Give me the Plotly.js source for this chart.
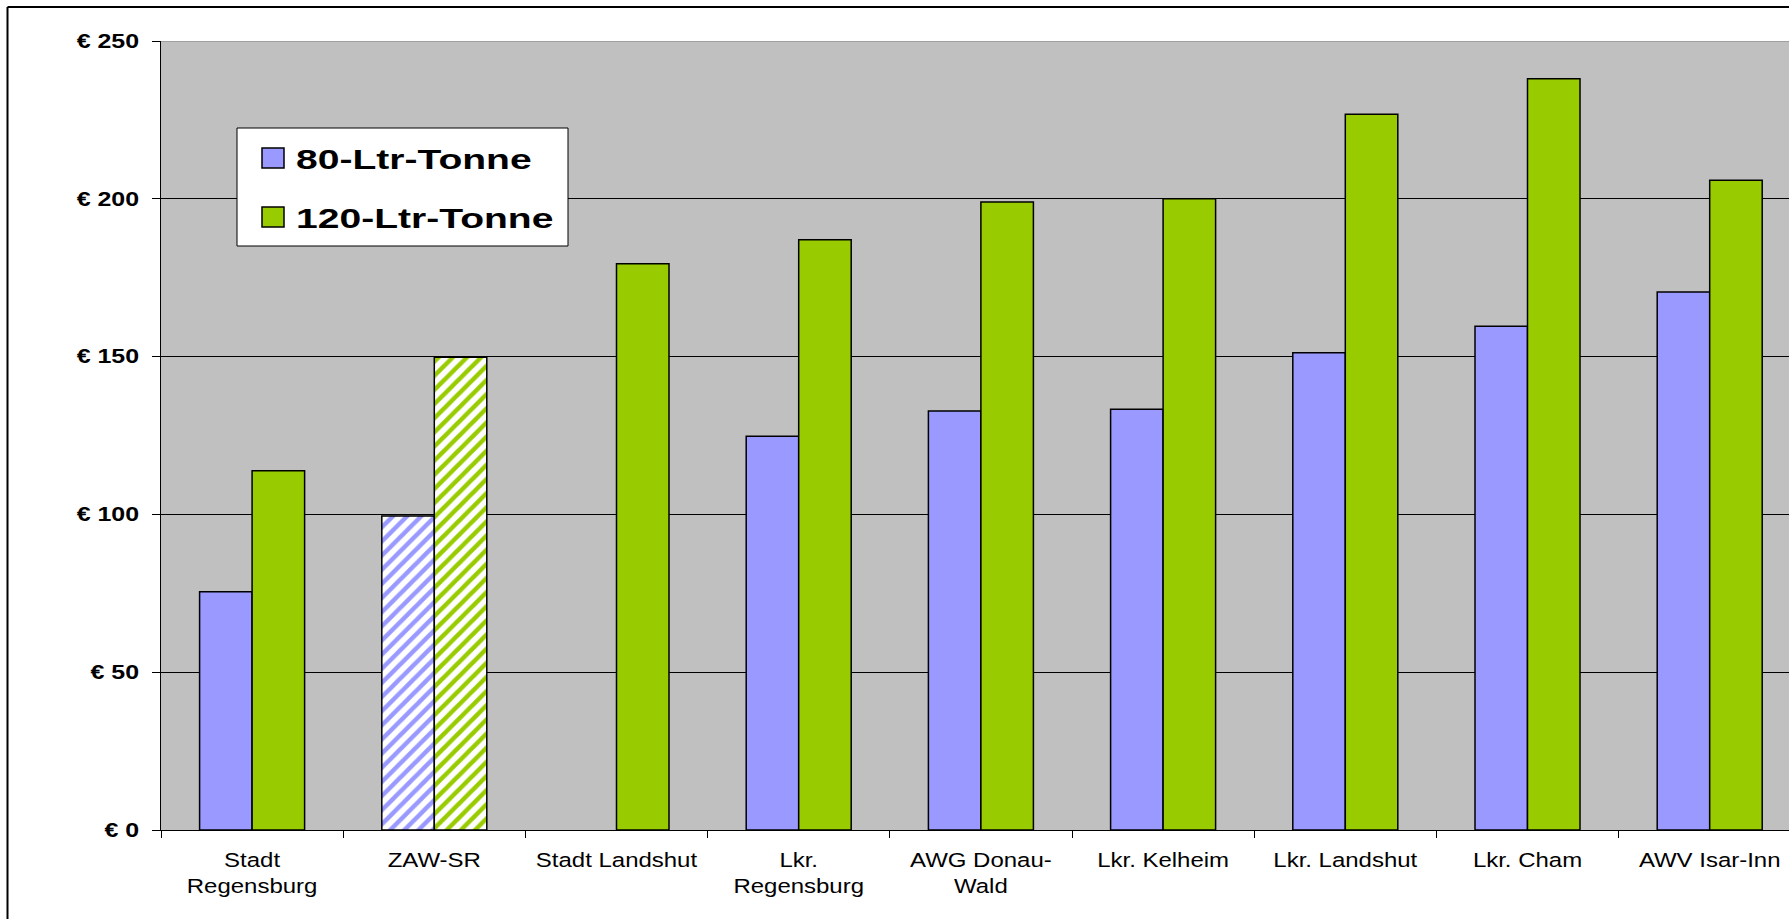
<!DOCTYPE html>
<html>
<head>
<meta charset="utf-8">
<script src="https://cdn.plot.ly/plotly-3.0.1.min.js"></script>
<style>
  html, body { margin: 0; padding: 0; background: #ffffff; }
  #chart { width: 1789px; height: 919px; }
</style>
</head>
<body>
<div id="chart"></div>
<script>
// ---- data ----
const categories = [
  "Stadt<br>Regensburg", "ZAW-SR", "Stadt Landshut", "Lkr.<br>Regensburg",
  "AWG Donau-<br>Wald", "Lkr. Kelheim", "Lkr. Landshut", "Lkr. Cham", "AWV Isar-Inn"
];
const tonne80  = [75.5, 99.5, null, 124.8, 132.8, 133.3, 151.2, 159.6, 170.5];
const tonne120 = [113.8, 149.8, 179.4, 187.0, 199.0, 200.0, 226.8, 238.0, 205.9];
const seriesNames = ["80-Ltr-Tonne", "120-Ltr-Tonne"];
const hatchedCategories = ["ZAW-SR"];
const yTickVals = [0, 50, 100, 150, 200, 250];
const yTickText = ["€ 0", "€ 50", "€ 100", "€ 150", "€ 200", "€ 250"];

// ---- layout constants (pixels) ----
const W = 1789, H = 919;
const ML = 161, MT = 41, MB = 89, MR = 0;
const plotW = W - ML - MR, plotH = H - MT - MB;
const catW = 182.2;
const xMax = -0.5 + plotW / catW;
const blue = "#9999ff", green = "#99cc00";

function px2x(px) { return (px - ML) / plotW; }
function py2y(py) { return (H - MB - py) / plotH; }

function patternFor(color) {
  return {
    shape: categories.map(c => hatchedCategories.includes(c) ? "/" : ""),
    fillmode: "replace",
    fgcolor: color,
    bgcolor: categories.map(c => hatchedCategories.includes(c) ? "#ffffff" : color),
    size: 10,
    solidity: 0.45
  };
}

const traces = [
  {
    type: "bar", name: seriesNames[0], x: categories, y: tonne80,
    marker: { color: blue, line: { color: "#000000", width: 1.5 }, pattern: patternFor(blue) },
    showlegend: false, hoverinfo: "x+y"
  },
  {
    type: "bar", name: seriesNames[1], x: categories, y: tonne120,
    marker: { color: green, line: { color: "#000000", width: 1.5 }, pattern: patternFor(green) },
    showlegend: false, hoverinfo: "x+y"
  }
];

// custom legend (box + swatches + text)
const legBox = { x0: 237, x1: 568, y0: 128, y1: 246 };
const legRows = [158, 217];
const shapes = [
  // outer chart frame (top & left visible)
  { type: "line", xref: "paper", yref: "paper", x0: px2x(7.5), x1: px2x(W + 10), y0: py2y(7), y1: py2y(7),
    line: { color: "#000000", width: 2 } },
  { type: "line", xref: "paper", yref: "paper", x0: px2x(7.5), x1: px2x(7.5), y0: py2y(7), y1: py2y(H + 10),
    line: { color: "#000000", width: 2 } },
  // top border of plot area
  { type: "line", xref: "paper", yref: "y", x0: 0, x1: 1, y0: 250, y1: 250, layer: "above",
    line: { color: "#808080", width: 1 } },
  // legend box
  { type: "rect", xref: "paper", yref: "paper", x0: px2x(legBox.x0), x1: px2x(legBox.x1),
    y0: py2y(legBox.y0), y1: py2y(legBox.y1), fillcolor: "#ffffff", layer: "above",
    line: { color: "#000000", width: 1 } }
];
const annotations = [];
[blue, green].forEach((col, i) => {
  const cy = legRows[i];
  shapes.push({ type: "rect", xref: "paper", yref: "paper", x0: px2x(262), x1: px2x(284),
    y0: py2y(cy - 10), y1: py2y(cy + 10), fillcolor: col, layer: "above",
    line: { color: "#000000", width: 1.5 } });
  annotations.push({ xref: "paper", yref: "paper", x: px2x(294), y: py2y(cy + 1),
    xanchor: "left", yanchor: "middle", showarrow: false, text: seriesNames[i],
    font: { family: "Liberation Sans, Arial, sans-serif", size: 28.5, weight: "bold", color: "#000000" } });
});

const layout = {
  width: W, height: H,
  margin: { l: ML, r: MR, t: MT, b: MB, pad: 0 },
  paper_bgcolor: "#ffffff",
  plot_bgcolor: "#c0c0c0",
  barmode: "group",
  bargap: 1 - 105 / catW,
  bargroupgap: 0,
  showlegend: false,
  font: { family: "Liberation Sans, Arial, sans-serif", color: "#000000" },
  xaxis: {
    type: "category", range: [-0.5, xMax],
    showline: true, linecolor: "#000000", linewidth: 1,
    ticks: "outside", tickson: "boundaries", ticklen: 7, tickcolor: "#000000", tickwidth: 1,
    tickangle: 0, showgrid: false, ticklabelstandoff: 11,
    tickfont: { family: "Liberation Sans, Arial, sans-serif", size: 20.5, color: "#000000" }
  },
  yaxis: {
    range: [0, 250], tickvals: yTickVals, ticktext: yTickText,
    showline: true, linecolor: "#000000", linewidth: 1, zeroline: false,
    ticks: "outside", ticklen: 8, tickcolor: "#000000", tickwidth: 1,
    showgrid: true, gridcolor: "#000000", gridwidth: 1, ticklabelstandoff: 9,
    tickfont: { family: "Liberation Sans, Arial, sans-serif", size: 19.5, weight: "bold", color: "#000000" }
  },
  shapes: shapes,
  annotations: annotations
};

function stretch(el, s, mode) {
  const bb = el.getBBox();
  let ox = bb.x + bb.width / 2;
  if (mode === "right") ox = bb.x + bb.width;
  if (mode === "left") ox = bb.x;
  const t = el.getAttribute("transform") || "";
  el.setAttribute("transform", t + " translate(" + ox + ",0) scale(" + s + ",1) translate(" + (-ox) + ",0)");
}

Plotly.newPlot("chart", traces, layout, { staticPlot: true }).then(gd => {
  gd.querySelectorAll(".xtick text").forEach(el => stretch(el, 1.17, "center"));
  gd.querySelectorAll(".ytick text").forEach(el => stretch(el, 1.28, "right"));
  gd.querySelectorAll(".annotation-text").forEach(el => stretch(el, 1.37, "left"));
});
</script>
</body>
</html>
